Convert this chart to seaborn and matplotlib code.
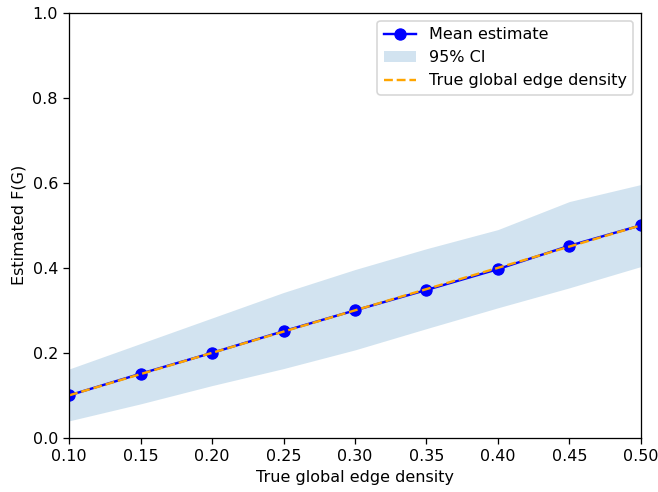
import matplotlib
matplotlib.use("Agg")
import matplotlib.pyplot as plt
import seaborn as sns
import numpy as np
import pandas as pd

true_density = [0.10, 0.15, 0.20, 0.25, 0.30, 0.35, 0.40, 0.45, 0.50]
mean_estimate = [0.100, 0.151, 0.200, 0.251, 0.300, 0.348, 0.397, 0.452, 0.500]
ci_lower = [0.040, 0.080, 0.123, 0.163, 0.207, 0.257, 0.306, 0.353, 0.403]
ci_upper = [0.162, 0.222, 0.282, 0.342, 0.396, 0.445, 0.490, 0.556, 0.596]

df = pd.DataFrame({"x": true_density, "mean": mean_estimate,
                   "lo": ci_lower, "hi": ci_upper})

DPI = 115
fig, ax = plt.subplots(figsize=(658 / DPI, 492 / DPI), dpi=DPI)
sns.lineplot(data=df, x="x", y="mean", color="blue", marker="o",
             markersize=7, markeredgecolor="blue", label="Mean estimate", ax=ax)
ax.fill_between(df["x"], df["lo"], df["hi"], color="tab:blue", alpha=0.2,
                linewidth=0, label="95% CI")
sns.lineplot(data=df, x="x", y="x", color="orange", linestyle="--",
             label="True global edge density", ax=ax)

ax.set_xlim(0.1, 0.5)
ax.set_ylim(0, 1.0)
ax.set_xlabel("True global edge density")
ax.set_ylabel("Estimated F(G)")
ax.legend(loc="upper right")
fig.subplots_adjust(left=0.105, right=0.974, bottom=0.11, top=0.974)
fig.savefig("out.png", dpi=DPI)
